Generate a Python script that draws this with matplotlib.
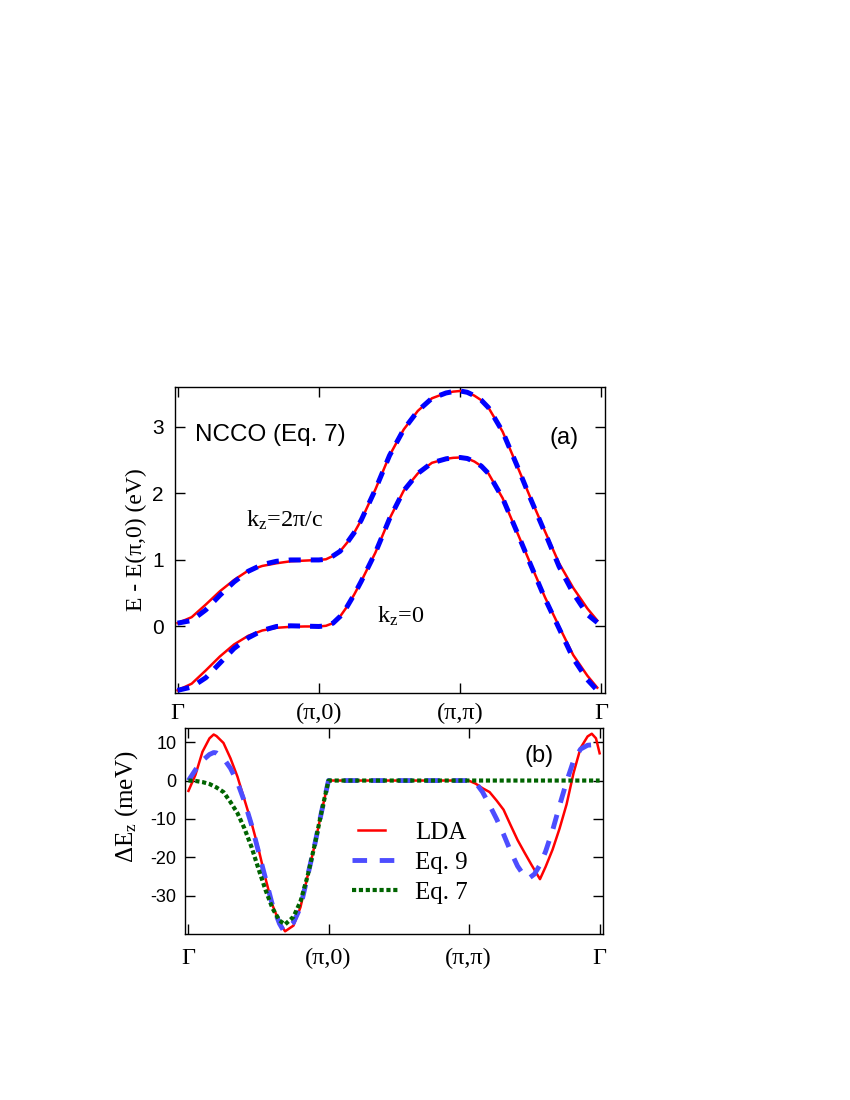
import matplotlib
matplotlib.use("Agg")
import matplotlib.pyplot as plt

plt.rcParams['mathtext.fontset'] = 'custom'
plt.rcParams['mathtext.rm'] = 'Liberation Serif'
plt.rcParams['mathtext.it'] = 'Liberation Serif:italic'

SANS = 'Liberation Sans'
SERIF = 'Liberation Serif'

# ---- panel (a): band dispersion along G-(pi,0)-(pi,pi)-G ----
k_a = [0.0, 0.1, 0.2, 0.3, 0.4, 0.5, 0.6, 0.7, 0.8, 0.9,
       1.0, 1.05, 1.1, 1.15, 1.2, 1.25, 1.3, 1.4, 1.5, 1.6, 1.7, 1.8, 1.9, 1.95,
       2.0, 2.05, 2.1, 2.15, 2.2, 2.3, 2.4, 2.5, 2.6, 2.7, 2.8, 2.9, 2.97]

lda_kz0 = [-0.96, -0.86, -0.66, -0.45, -0.27, -0.14, -0.06, -0.02, -0.005, 0.0,
           0.0, 0.01, 0.05, 0.15, 0.30, 0.48, 0.68, 1.11, 1.62, 2.04, 2.30, 2.46, 2.52, 2.535,
           2.54, 2.525, 2.48, 2.41, 2.30, 1.93, 1.43, 0.93, 0.44, 0.0, -0.43, -0.74, -0.92]
fit_kz0 = [-0.96, -0.91, -0.77, -0.55, -0.33, -0.17, -0.06, 0.0, 0.01, 0.005,
           0.0, 0.01, 0.05, 0.15, 0.30, 0.48, 0.68, 1.11, 1.62, 2.04, 2.30, 2.46, 2.52, 2.535,
           2.54, 2.525, 2.48, 2.41, 2.30, 1.93, 1.43, 0.92, 0.42, -0.03, -0.48, -0.80, -0.96]

lda_kzc = [0.05, 0.14, 0.33, 0.53, 0.70, 0.84, 0.91, 0.95, 0.98, 0.99,
           1.0, 1.01, 1.06, 1.13, 1.26, 1.41, 1.60, 2.06, 2.57, 2.96, 3.24, 3.43, 3.51, 3.53,
           3.54, 3.52, 3.47, 3.40, 3.29, 2.93, 2.43, 1.92, 1.43, 0.95, 0.58, 0.27, 0.09]
fit_kzc = [0.05, 0.09, 0.25, 0.47, 0.67, 0.83, 0.93, 0.98, 1.0, 1.0,
           1.0, 1.01, 1.06, 1.13, 1.26, 1.41, 1.60, 2.06, 2.57, 2.96, 3.24, 3.43, 3.51, 3.53,
           3.54, 3.52, 3.47, 3.40, 3.29, 2.93, 2.43, 1.91, 1.41, 0.90, 0.50, 0.18, 0.06]

ticks_a = [0, 1, 2, 3]
path_lbl = ['\u0393', '(\u03c0,0)', '(\u03c0,\u03c0)', '\u0393']
yticks_a = [0, 1, 2, 3]

# ---- panel (b): kz dispersion Delta E_z (meV) ----
k_lda = [0.0, 0.05, 0.10, 0.15, 0.18, 0.20, 0.25, 0.30, 0.35, 0.40,
         0.45, 0.50, 0.55, 0.60, 0.65, 0.69, 0.75, 0.80, 0.85, 0.90,
         0.95, 1.0, 2.0, 2.05, 2.10, 2.15, 2.20, 2.25, 2.30, 2.35,
         2.40, 2.45, 2.51, 2.55, 2.60, 2.65, 2.70, 2.75, 2.80, 2.85,
         2.88, 2.91, 2.936]
dE_lda = [-2.7, 1.5, 7.5, 11.0, 12.0, 11.6, 9.8, 5.8, 1.0, -5.0,
          -11.0, -17.8, -25.5, -32.5, -37.0, -39.3, -37.8, -33.0, -25.0, -17.0,
          -8.2, 0.0, 0.0, -0.8, -2.0, -3.0, -5.2, -7.6, -11.6, -15.5,
          -18.8, -22.0, -25.7, -22.5, -18.0, -12.5, -6.2, 2.0, 8.5, 11.5,
          12.2, 11.0, 7.1]

k_eq9 = [0.0, 0.05, 0.10, 0.15, 0.18, 0.20, 0.25, 0.30, 0.35, 0.40,
         0.45, 0.50, 0.55, 0.60, 0.65, 0.68, 0.75, 0.80, 0.85, 0.90,
         0.95, 1.0, 2.0, 2.05, 2.10, 2.15, 2.20, 2.25, 2.30, 2.35,
         2.40, 2.43, 2.47, 2.51, 2.55, 2.60, 2.65, 2.70, 2.75, 2.80,
         2.85, 2.88, 2.91, 2.936]
dE_eq9 = [0.0, 2.8, 5.2, 6.8, 7.3, 7.2, 5.8, 3.2, -0.5, -5.5,
          -11.5, -18.5, -25.5, -32.5, -37.3, -39.2, -37.0, -33.0, -25.0, -17.0,
          -8.2, 0.0, 0.0, -0.5, -3.0, -6.4, -10.0, -14.0, -18.4, -22.3,
          -25.0, -25.5, -24.4, -22.0, -18.5, -13.0, -6.5, -0.3, 5.2, 8.2,
          9.2, 9.3, 8.5, 7.1]

k_eq7 = [0.0, 0.05, 0.10, 0.15, 0.20, 0.25, 0.30, 0.35, 0.40, 0.45,
         0.50, 0.55, 0.60, 0.65, 0.69, 0.75, 0.80, 0.85, 0.90, 0.95,
         1.0, 2.0, 2.936]
dE_eq7 = [0.0, -0.1, -0.4, -0.9, -1.8, -3.0, -5.6, -8.5, -12.5, -17.3,
          -23.0, -28.5, -33.3, -36.5, -37.5, -35.5, -31.5, -25.0, -17.0, -8.2,
          0.0, 0.0, 0.0]

ticks_b = [0, 1, 2, 2.936]
yticks_b = [10, 0, -10, -20, -30]
yticks_b_lbl = ['10', '0', '-10', '-20', '-30']

fig = plt.figure(figsize=(8.5, 11), dpi=100)

# top panel
ax1 = fig.add_axes([0.2059, 0.370, 0.5059, 0.2782])
for yy in (lda_kz0, lda_kzc):
    ax1.plot(k_a, yy, color='red', lw=1.8, zorder=2)
for yy in (fit_kz0, fit_kzc):
    ax1.plot(k_a, yy, color='#0000ff', lw=3.6, dashes=(2.4, 2.0), zorder=3)

ax1.set_xlim(-0.018, 3.025)
ax1.set_ylim(-1.0, 3.6)
ax1.set_xticks(ticks_a)
ax1.set_xticklabels(path_lbl, family=SERIF, fontsize=17.5)
ax1.set_yticks(yticks_a)
ax1.set_yticklabels([str(v) for v in yticks_a], family=SANS, fontsize=15)
ax1.tick_params(direction='in', top=True, right=True, length=7, width=1.0)
ax1.tick_params(axis='x', pad=7)
ax1.tick_params(axis='y', pad=8)
ax1.set_ylabel('E - E(\u03c0,0) (eV)', family=SERIF, fontsize=17)
ax1.yaxis.set_label_coords(-0.066, 0.5)

ax1.text(0.047, 0.823, 'NCCO (Eq. 7)', transform=ax1.transAxes,
         family=SANS, fontsize=17.5, va='baseline')
ax1.text(0.872, 0.815, '(a)', transform=ax1.transAxes,
         family=SANS, fontsize=17, va='baseline')
ax1.text(0.165, 0.543, 'k$_\\mathrm{z}$=2\u03c0/c',
         transform=ax1.transAxes, family=SERIF, fontsize=17.5, va='baseline')
ax1.text(0.47, 0.229, 'k$_\\mathrm{z}$=0', transform=ax1.transAxes,
         family=SERIF, fontsize=17.5, va='baseline')

# bottom panel
ax2 = fig.add_axes([0.2176, 0.1509, 0.4918, 0.1873])
ax2.plot(k_lda, dE_lda, color='red', lw=1.8, label='LDA')
ax2.plot(k_eq9, dE_eq9, color='#4d4dff', lw=3.5, dashes=(3.0, 2.6),
         label='Eq. 9')
ax2.plot(k_eq7, dE_eq7, color='#006400', lw=3.0, dashes=(1.0, 0.65),
         label='Eq. 7')

ax2.set_xlim(-0.025, 2.96)
ax2.set_ylim(-40, 13.7)
ax2.set_xticks(ticks_b)
ax2.set_xticklabels(path_lbl, family=SERIF, fontsize=17.5)
ax2.set_yticks(yticks_b)
ax2.set_yticklabels(yticks_b_lbl, family=SANS, fontsize=13)
ax2.tick_params(direction='in', top=True, right=True, length=7, width=1.0)
ax2.tick_params(axis='x', pad=10)
ax2.tick_params(axis='y', pad=6)
ax2.set_ylabel('$\\Delta$E$_\\mathrm{z}$ (meV)', family=SERIF, fontsize=18)
ax2.yaxis.set_label_coords(-0.108, 0.617)

ax2.text(0.813, 0.836, '(b)', transform=ax2.transAxes,
         family=SANS, fontsize=17, va='baseline')

leg = ax2.legend(loc='center left', bbox_to_anchor=(0.40, 0.345),
                 frameon=False, borderpad=0, borderaxespad=0,
                 handlelength=1.85, handletextpad=0.68, labelspacing=0.3,
                 prop={'family': SERIF, 'size': 18})
# the LDA sample line is drawn shorter than the dashed ones
ln = leg.get_lines()[0]
xd = list(ln.get_xdata())
yd = list(ln.get_ydata())
w = xd[-1] - xd[0]
ln.set_data([xd[0] + 0.13 * w, xd[-1] - 0.28 * w], [yd[0], yd[0]])

for ax in (ax1, ax2):
    for s in ax.spines.values():
        s.set_linewidth(1.0)

fig.savefig('out.png', dpi=100)
